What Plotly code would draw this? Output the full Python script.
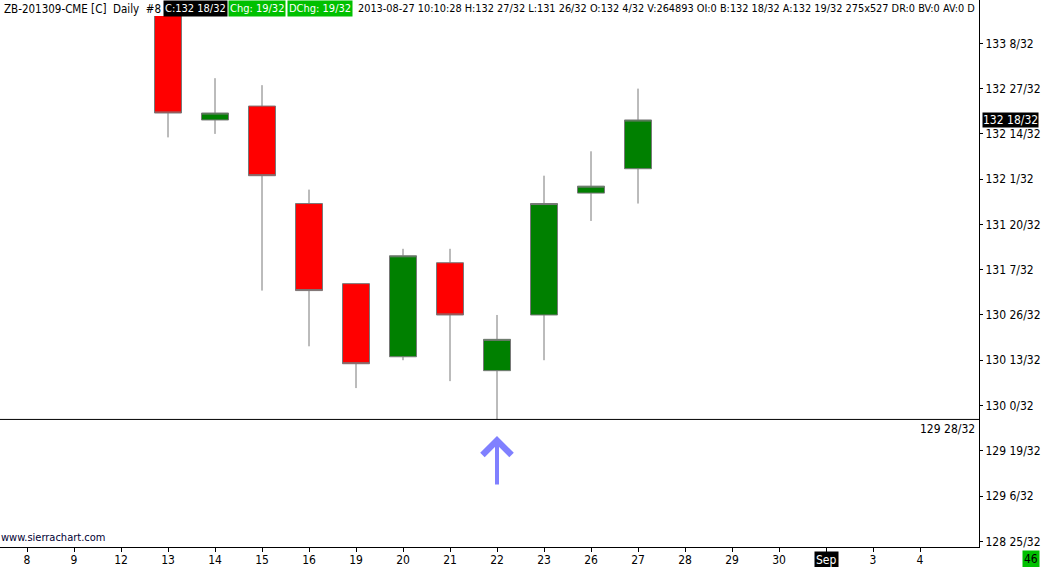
import plotly.graph_objects as go

# ---------------- data ----------------
date_labels = ["8", "9", "12", "13", "14", "15", "16", "19", "20", "21", "22",
               "23", "26", "27", "28", "29", "30", "Sep", "3", "4"]
candle_dates = ["13", "14", "15", "16", "19", "20", "21", "22", "23", "26", "27"]
opens  = ["133 24/32", "132 18/32", "132 22/32", "131 26/32", "131 3/32", "130 14/32",
          "131 9/32", "130 10/32", "130 26/32", "131 29/32", "132 4/32"]
highs  = ["133 28/32", "132 30/32", "132 28/32", "131 30/32", "131 3/32", "131 13/32",
          "131 13/32", "130 26/32", "132 2/32", "132 9/32", "132 27/32"]
lows   = ["132 13/32", "132 14/32", "131 1/32", "130 17/32", "130 5/32", "130 13/32",
          "130 7/32", "129 28/32", "130 13/32", "131 21/32", "131 26/32"]
closes = ["132 20/32", "132 20/32", "132 2/32", "131 1/32", "130 12/32", "131 11/32",
          "130 26/32", "130 19/32", "131 26/32", "131 31/32", "132 18/32"]
price_ticks = ["128 25/32", "129 6/32", "129 19/32", "130 0/32", "130 13/32", "130 26/32",
               "131 7/32", "131 20/32", "132 1/32", "132 14/32", "132 27/32", "133 8/32"]
last_price = "132 18/32"
line_level = "129 28/32"
arrow_date = "22"
header_info = ("2013-08-27 10:10:28 H:132 27/32 L:131 26/32 O:132 4/32 V:264893 OI:0 "
               "B:132 18/32 A:132 19/32 275x527 DR:0 BV:0 AV:0 D")


def p(s):
    whole, frac = s.split()
    return int(whole) + int(frac.split("/")[0]) / 32.0


FONT = "DejaVu Sans Condensed, DejaVu Sans, sans-serif"
W, H = 1042, 567
L, R, T, B = 0, 63, 0, 20
PW = W - L - R

xpos = [date_labels.index(d) for d in candle_dates]

fig = go.Figure()
fig.add_trace(go.Candlestick(
    x=xpos,
    open=[p(v) for v in opens], high=[p(v) for v in highs],
    low=[p(v) for v in lows], close=[p(v) for v in closes],
    increasing=dict(fillcolor="#008000", line=dict(color="#787878", width=1)),
    decreasing=dict(fillcolor="#FF0000", line=dict(color="#787878", width=1)),
    whiskerwidth=0, hoverinfo="skip", showlegend=False,
))

# y scale: 1/32 ~ 3.482 px, 130 0/32 at y=405.5
ppt = 3.482
y_top = 130 + (405.5 / ppt) / 32
y_bot = 130 - ((547 - 405.5) / ppt) / 32
x0 = -27 / 47
x1 = (PW - 27) / 47

fig.update_layout(
    template="none",
    width=W, height=H, margin=dict(l=L, r=R, t=T, b=B, pad=0, autoexpand=False),
    paper_bgcolor="white", plot_bgcolor="white",
    boxgap=0.426, boxgroupgap=0,
    font=dict(family=FONT, size=12, color="black"),
    xaxis=dict(range=[x0, x1], tickmode="array", tickvals=list(range(len(date_labels))),
               ticktext=[("" if d == "Sep" else d) for d in date_labels],
               showgrid=False, zeroline=False, showline=True, linecolor="black", linewidth=1,
               ticks="outside", ticklen=4, tickcolor="black", automargin=False,
               ticklabelstandoff=-2,
               rangeslider=dict(visible=False), tickfont=dict(family=FONT, size=12, color="black")),
    yaxis=dict(range=[y_bot, y_top], side="right", tickmode="array",
               tickvals=[p(t) for t in price_ticks], ticktext=price_ticks,
               showgrid=False, zeroline=False, showline=True, linecolor="black", linewidth=1,
               ticks="outside", ticklen=3, tickcolor="black", automargin=False,
               tickfont=dict(family=FONT, size=12, color="black")),
)

# horizontal level line
fig.add_shape(type="line", xref="paper", x0=0, x1=1, yref="y", y0=p(line_level), y1=p(line_level),
              line=dict(color="black", width=1), layer="above")
# header white band
fig.add_shape(type="rect", xref="paper", x0=0, x1=1, yref="paper", y0=1 - 16 / (H - T - B), y1=1,
              fillcolor="white", line=dict(width=0), layer="above")

# header texts
header = [
    (2, "ZB-201309-CME [C]  Daily  #8", None, "black", 11.5),
    (163, "C:132 18/32", "black", "white", 11),
    (228, "Chg: 19/32", "#00C000", "white", 11),
    (287, "DChg: 19/32", "#00C000", "white", 11),
    (356, header_info, None, "black", 10.85),
]
for xpx, txt, bg, fg, fs in header:
    kw = dict(bgcolor=bg) if bg else {}
    fig.add_annotation(xref="paper", yref="paper", x=xpx / PW, y=1, xanchor="left", yanchor="top",
                       text=txt, showarrow=False, borderpad=1,
                       font=dict(family=FONT, size=fs, color=fg), **kw)

# last price label on right axis
fig.add_annotation(xref="paper", yref="y", x=1, xshift=3, y=p(last_price), xanchor="left", yanchor="middle",
                   text=last_price, showarrow=False, bgcolor="black", borderpad=0,
                   font=dict(family=FONT, size=12, color="white"))
# level label
fig.add_annotation(xref="paper", yref="y", x=1, xshift=-2, y=p(line_level), yshift=-1, xanchor="right",
                   yanchor="top", text=line_level, showarrow=False,
                   font=dict(family=FONT, size=12, color="black"))
# Sep label
fig.add_annotation(xref="x", yref="paper", x=date_labels.index("Sep"), y=0, yshift=-4, xanchor="center",
                   yanchor="top", text="Sep", showarrow=False, bgcolor="black", borderpad=1,
                   font=dict(family=FONT, size=12, color="white"))
# 46 box
fig.add_annotation(xref="paper", yref="paper", x=1, xshift=52, y=0, yshift=-3, xanchor="center",
                   yanchor="top", text="46", showarrow=False, bgcolor="#00C000", borderpad=1,
                   font=dict(family=FONT, size=12, color="black"))
# watermark
fig.add_annotation(xref="paper", yref="paper", x=0, y=0, yshift=2, xanchor="left", yanchor="bottom",
                   text="www.sierrachart.com", showarrow=False, borderpad=0,
                   font=dict(family=FONT, size=11, color="#000033"))
# arrow
fig.add_annotation(xref="x", yref="y", x=date_labels.index(arrow_date),
                   y=130 - ((436 - 405.5) / ppt) / 32, ax=0, ay=50,
                   showarrow=True, arrowhead=4, arrowsize=1.4, arrowwidth=4, arrowcolor="#8080FF",
                   text="")

fig.write_html("out.html", config={"displayModeBar": False},
               post_script="document.body.style.margin='0';document.body.style.padding='0';")
